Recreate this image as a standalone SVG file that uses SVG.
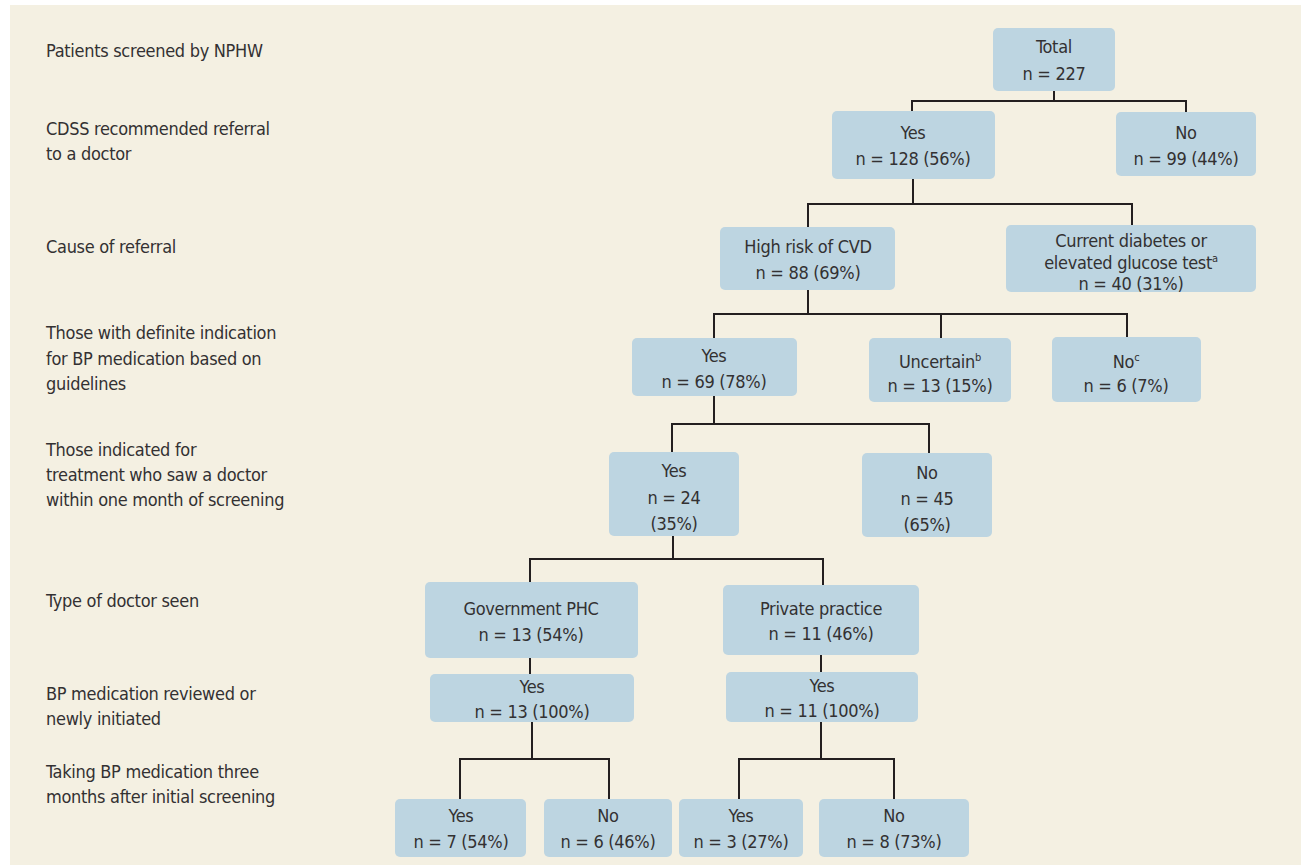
<svg xmlns="http://www.w3.org/2000/svg" width="1301" height="865" viewBox="0 0 1301 865">
<style>
text{font-family:"Liberation Sans Narrow","DejaVu Sans Condensed","Liberation Sans",sans-serif;font-size:18px;letter-spacing:-0.3px;fill:#333132}
.c{text-anchor:middle}
.b{fill:#bdd5e1}
.sup{font-size:11px}
#connectors path{fill:none;stroke:#231f20;stroke-width:2}
</style>
<rect x="0" y="0" width="1301" height="865" fill="#ffffff"/>
<rect x="10" y="5" width="1291" height="860" fill="#f4f0e2"/>
<g id="labels">
<text x="46" y="57">Patients screened by NPHW</text>
<text x="46" y="135">CDSS recommended referral</text>
<text x="46" y="160">to a doctor</text>
<text x="46" y="253">Cause of referral</text>
<text x="46" y="339">Those with definite indication</text>
<text x="46" y="365">for BP medication based on</text>
<text x="46" y="390">guidelines</text>
<text x="46" y="456">Those indicated for</text>
<text x="46" y="481">treatment who saw a doctor</text>
<text x="46" y="506">within one month of screening</text>
<text x="46" y="607">Type of doctor seen</text>
<text x="46" y="700">BP medication reviewed or</text>
<text x="46" y="725">newly initiated</text>
<text x="46" y="778">Taking BP medication three</text>
<text x="46" y="803">months after initial screening</text>
</g>
<g id="connectors">
<path d="M1054 91V101M912 111V101H1186V112"/>
<path d="M913 179V204M808 227V204H1132V225"/>
<path d="M808 290V314M714 338V314H1127V337M941 314V338"/>
<path d="M714 396V424M672 452V424H929V453"/>
<path d="M673 536V559M530 582V559H823V585"/>
<path d="M530 658V674"/>
<path d="M821 655V672"/>
<path d="M532 722V759M460 799V759H609V799"/>
<path d="M821 722V759M739 799V759H894V799"/>
</g>
<g id="n-total"><rect class="b" x="993" y="28" width="122" height="63" rx="5"/><text class="c" x="1054" y="53">Total</text><text class="c" x="1054" y="80">n = 227</text></g>
<g id="n-yes128"><rect class="b" x="832" y="111" width="163" height="68" rx="5"/><text class="c" x="913" y="139">Yes</text><text class="c" x="913" y="165">n = 128 (56%)</text></g>
<g id="n-no99"><rect class="b" x="1116" y="112" width="140" height="64" rx="5"/><text class="c" x="1186" y="139">No</text><text class="c" x="1186" y="165">n = 99 (44%)</text></g>
<g id="n-cvd"><rect class="b" x="720" y="227" width="175" height="63" rx="5"/><text class="c" x="808" y="253">High risk of CVD</text><text class="c" x="808" y="279">n = 88 (69%)</text></g>
<g id="n-diab"><rect class="b" x="1006" y="225" width="250" height="67" rx="5"/><text class="c" x="1131" y="247">Current diabetes or</text><text class="c" x="1131" y="269">elevated glucose test<tspan class="sup" dy="-7">a</tspan></text><text class="c" x="1131" y="290">n = 40 (31%)</text></g>
<g id="n-yes69"><rect class="b" x="632" y="338" width="165" height="58" rx="5"/><text class="c" x="714" y="362">Yes</text><text class="c" x="714" y="388">n = 69 (78%)</text></g>
<g id="n-unc"><rect class="b" x="869" y="338" width="142" height="64" rx="5"/><text class="c" x="940" y="368">Uncertain<tspan class="sup" dy="-7">b</tspan></text><text class="c" x="940" y="392">n = 13 (15%)</text></g>
<g id="n-no6"><rect class="b" x="1052" y="337" width="149" height="65" rx="5"/><text class="c" x="1126" y="368">No<tspan class="sup" dy="-7">c</tspan></text><text class="c" x="1126" y="392">n = 6 (7%)</text></g>
<g id="n-yes24"><rect class="b" x="609" y="452" width="130" height="84" rx="5"/><text class="c" x="674" y="477">Yes</text><text class="c" x="674" y="504">n = 24</text><text class="c" x="674" y="530">(35%)</text></g>
<g id="n-no45"><rect class="b" x="862" y="453" width="130" height="84" rx="5"/><text class="c" x="927" y="479">No</text><text class="c" x="927" y="505">n = 45</text><text class="c" x="927" y="531">(65%)</text></g>
<g id="n-gov"><rect class="b" x="425" y="582" width="213" height="76" rx="5"/><text class="c" x="531" y="615">Government PHC</text><text class="c" x="531" y="641">n = 13 (54%)</text></g>
<g id="n-priv"><rect class="b" x="723" y="585" width="196" height="70" rx="5"/><text class="c" x="821" y="615">Private practice</text><text class="c" x="821" y="640">n = 11 (46%)</text></g>
<g id="n-yes13"><rect class="b" x="430" y="674" width="204" height="48" rx="5"/><text class="c" x="532" y="693">Yes</text><text class="c" x="532" y="718">n = 13 (100%)</text></g>
<g id="n-yes11"><rect class="b" x="726" y="672" width="192" height="50" rx="5"/><text class="c" x="822" y="692">Yes</text><text class="c" x="822" y="717">n = 11 (100%)</text></g>
<g id="n-yes7"><rect class="b" x="395" y="799" width="131" height="58" rx="5"/><text class="c" x="461" y="822">Yes</text><text class="c" x="461" y="848">n = 7 (54%)</text></g>
<g id="n-no6b"><rect class="b" x="544" y="799" width="128" height="58" rx="5"/><text class="c" x="608" y="822">No</text><text class="c" x="608" y="848">n = 6 (46%)</text></g>
<g id="n-yes3"><rect class="b" x="679" y="799" width="124" height="58" rx="5"/><text class="c" x="741" y="822">Yes</text><text class="c" x="741" y="848">n = 3 (27%)</text></g>
<g id="n-no8"><rect class="b" x="819" y="799" width="150" height="58" rx="5"/><text class="c" x="894" y="822">No</text><text class="c" x="894" y="848">n = 8 (73%)</text></g>
</svg>
